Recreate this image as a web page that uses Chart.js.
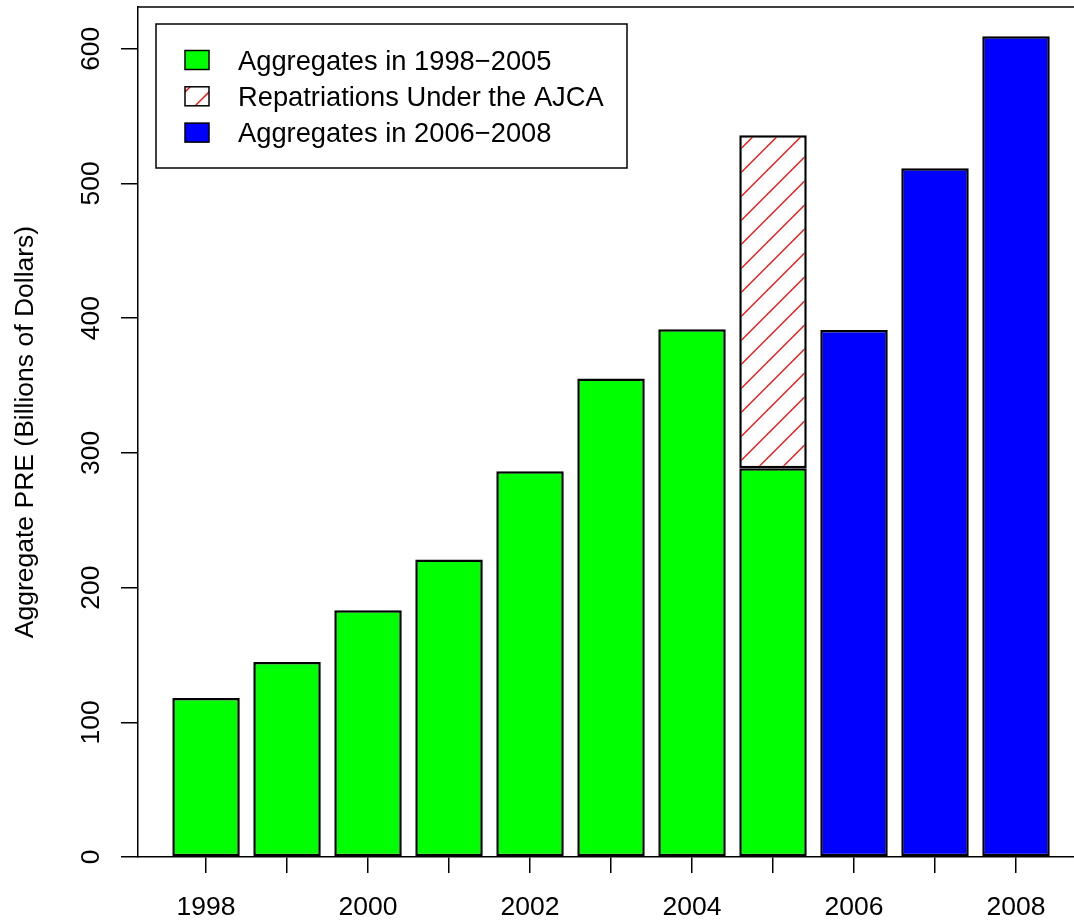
<!DOCTYPE html>
<html>
<head>
<meta charset="utf-8">
<script src="https://cdn.jsdelivr.net/npm/chart.js@4/dist/chart.umd.min.js"></script>
<style>
  body { margin: 0; background: #fff; }
  canvas { display: block; }
</style>
</head>
<body>
<canvas id="preChart" width="1074" height="922"></canvas>
<script>
// data (billions of dollars)
var earlyYears = [1998, 1999, 2000, 2001, 2002, 2003, 2004, 2005];
var earlyValues = [118.0, 144.8, 183.2, 220.8, 286.3, 355.2, 391.8, 288.6];
var ajcaYears = [2005];
var ajcaValues = [247.2];
var lateYears = [2006, 2007, 2008];
var lateValues = [391.2, 511.3, 609.3];
var seriesLabels = ['Aggregates in 1998\u22122005', 'Repatriations Under the AJCA', 'Aggregates in 2006\u22122008'];
var yTickValues = [0, 100, 200, 300, 400, 500, 600];

function toPoints(xs, ys) {
    return xs.map(function (x, i) { return { x: x, y: ys[i] }; });
}

// red diagonal hatching for the AJCA block
function makeHatch() {
    var c = document.createElement('canvas');
    c.width = 24; c.height = 24;
    var g = c.getContext('2d');
    g.fillStyle = '#ffffff';
    g.fillRect(0, 0, 24, 24);
    g.strokeStyle = '#ff0000';
    g.lineWidth = 1.3;
    [-22.3, 1.7, 25.7, 49.7].forEach(function (k) {
        g.beginPath();
        g.moveTo(-2, k + 2);
        g.lineTo(k + 2, -2);
        g.stroke();
    });
    return g.createPattern(c, 'repeat');
}
var hatch = makeHatch();

var font = "'Liberation Sans', Arial, Helvetica, sans-serif";
Chart.defaults.font.family = font;
Chart.defaults.font.size = 26.5;
Chart.defaults.color = '#000';

// y tick labels are drawn turned, like R's default axis
var rotatedYLabels = {
    id: 'rotatedYLabels',
    afterDraw: function (chart) {
        var ctx = chart.ctx;
        var y = chart.scales.y;
        ctx.save();
        ctx.fillStyle = '#000';
        ctx.font = '26.5px ' + font;
        ctx.textAlign = 'center';
        ctx.textBaseline = 'alphabetic';
        y.ticks.forEach(function (t) {
            ctx.save();
            ctx.translate(99, y.getPixelForValue(t.value));
            ctx.rotate(-Math.PI / 2);
            ctx.fillText(String(t.value), 0, 0);
            ctx.restore();
        });
        ctx.restore();
    }
};

// top edge of the plot box
var boxTop = {
    id: 'boxTop',
    afterDraw: function (chart) {
        var a = chart.chartArea, ctx = chart.ctx;
        ctx.save();
        ctx.strokeStyle = '#000';
        ctx.lineWidth = 1.5;
        ctx.beginPath();
        ctx.moveTo(a.left, a.top);
        ctx.lineTo(chart.width, a.top);
        ctx.stroke();
        ctx.restore();
    }
};

// boxed legend inside the plot, top left
var boxLegend = {
    id: 'boxLegend',
    afterDraw: function (chart) {
        var ctx = chart.ctx;
        ctx.save();
        ctx.fillStyle = '#fff';
        ctx.fillRect(156, 24, 471, 144);
        ctx.strokeStyle = '#000';
        ctx.lineWidth = 1.5;
        ctx.strokeRect(156, 24, 471, 144);
        ctx.font = '27.3px ' + font;
        ctx.textBaseline = 'alphabetic';
        chart.data.datasets.forEach(function (ds, i) {
            var base = 69.5 + i * 36.3;
            var sx = 185, sy = base - 19, sw = 24, sh = 19;
            if (ds.backgroundColor instanceof CanvasPattern) {
                ctx.fillStyle = '#fff';
                ctx.fillRect(sx, sy, sw, sh);
                ctx.save();
                ctx.beginPath();
                ctx.rect(sx, sy, sw, sh);
                ctx.clip();
                ctx.strokeStyle = '#ff0000';
                ctx.lineWidth = 1.3;
                [277, 301].forEach(function (c) {
                    ctx.beginPath();
                    ctx.moveTo(c - sy - 40, sy + 40);
                    ctx.lineTo(c - sy + 40, sy - 40);
                    ctx.stroke();
                });
                ctx.restore();
            } else {
                ctx.fillStyle = ds.backgroundColor;
                ctx.fillRect(sx, sy, sw, sh);
            }
            ctx.strokeStyle = '#000';
            ctx.lineWidth = 1.5;
            ctx.strokeRect(sx, sy, sw, sh);
            ctx.fillStyle = '#000';
            ctx.fillText(ds.label, 238, base);
        });
        ctx.restore();
    }
};

var ctx = document.getElementById('preChart').getContext('2d');
var preChart = new Chart(ctx, {
    type: 'bar',
    data: {
        datasets: [{
            label: seriesLabels[0],
            data: toPoints(earlyYears, earlyValues),
            backgroundColor: '#00ff00'
        }, {
            label: seriesLabels[1],
            data: toPoints(ajcaYears, ajcaValues),
            backgroundColor: hatch
        }, {
            label: seriesLabels[2],
            data: toPoints(lateYears, lateValues),
            backgroundColor: '#0000ff'
        }]
    },
    options: {
        responsive: false,
        animation: false,
        devicePixelRatio: 1,
        layout: { padding: { top: 7, left: 0, right: 0, bottom: 0 } },
        datasets: {
            bar: {
                borderColor: '#000',
                borderWidth: 2.5,
                borderSkipped: false,
                categoryPercentage: 1,
                barPercentage: 0.833
            }
        },
        scales: {
            x: {
                type: 'linear',
                stacked: true,
                offset: false,
                min: 1997.16,
                max: 2008.716,
                afterFit: function (s) { s.height = 65; },
                ticks: {
                    stepSize: 1,
                    includeBounds: false,
                    autoSkip: false,
                    maxRotation: 0,
                    padding: 19,
                    callback: function (v) { return v % 2 === 0 ? String(v) : ''; }
                },
                grid: {
                    offset: false,
                    drawOnChartArea: false,
                    drawTicks: true,
                    tickLength: 16,
                    color: '#000',
                    lineWidth: 1.5
                },
                border: { display: true, color: '#000', width: 1.5 }
            },
            y: {
                stacked: true,
                min: 0,
                max: 631,
                afterFit: function (s) { s.width = 138; },
                afterBuildTicks: function (s) {
                    s.ticks = yTickValues.map(function (v) { return { value: v }; });
                },
                ticks: { display: false, includeBounds: false },
                grid: {
                    drawOnChartArea: false,
                    drawTicks: true,
                    tickLength: 17,
                    color: '#000',
                    lineWidth: 1.5
                },
                border: { display: true, color: '#000', width: 1.5 },
                title: {
                    display: true,
                    text: 'Aggregate PRE (Billions of Dollars)',
                    padding: { top: 10, bottom: 0 }
                }
            }
        },
        plugins: {
            legend: { display: false },
            tooltip: { enabled: false }
        }
    },
    plugins: [rotatedYLabels, boxTop, boxLegend]
});
</script>
</body>
</html>
